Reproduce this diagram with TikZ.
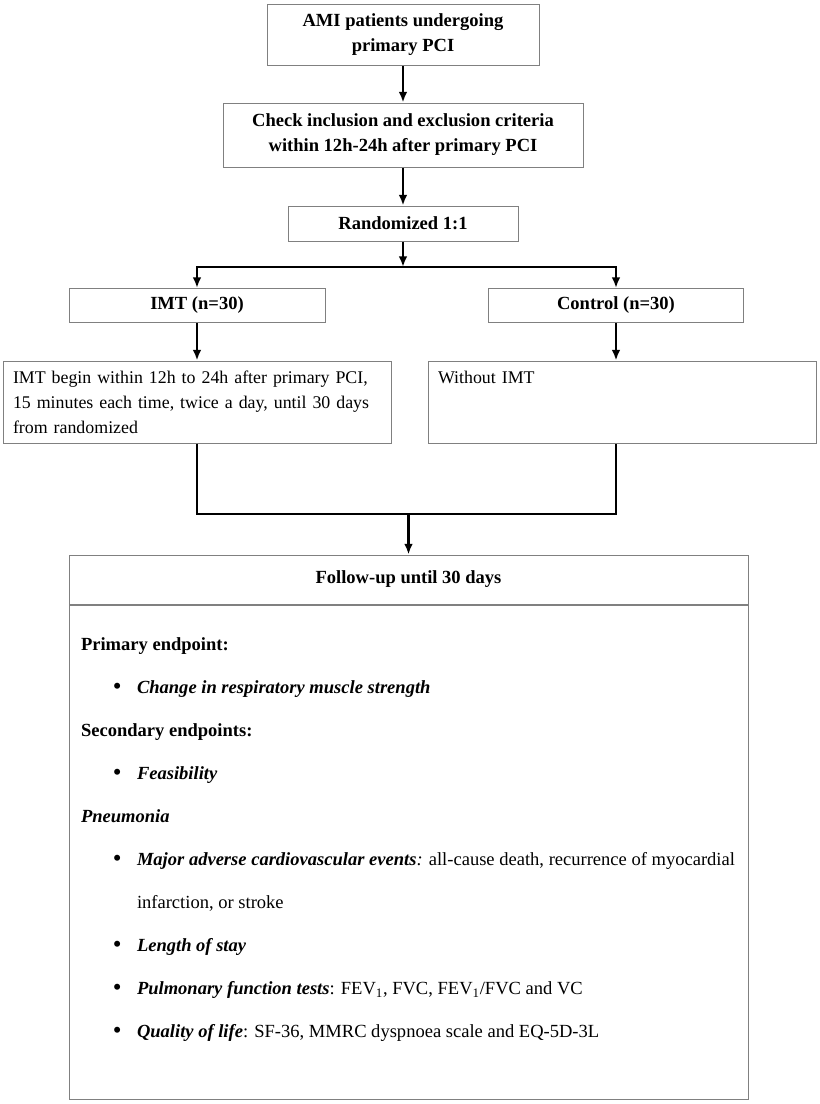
\documentclass[tikz,border=0pt]{standalone}
\usepackage{fontspec}
\setmainfont{Liberation Serif}
\usetikzlibrary{arrows.meta,positioning}
\definecolor{boxgray}{HTML}{808080}
\tikzset{
  flowbox/.style={draw=boxgray, line width=0.75pt, inner sep=0pt, align=center, font=\fontsize{13.9}{18.75}\selectfont\bfseries},
  textbox/.style={draw=boxgray, line width=0.75pt, inner xsep=7.5pt, inner ysep=0pt, text width=276pt, align=left, minimum height=61.5pt, font=\fontsize{13.4}{18.75}\selectfont},
  link/.style={line width=1.6pt},
  arr/.style={link, -{Latex[length=8pt,width=6.5pt]}}
}
\newcommand{\bul}{\hspace*{24pt}\makebox[18pt][l]{\raisebox{-0.08em}{\scalebox{1.35}{\textbullet}}}}
\newcommand{\bi}[1]{{\bfseries\itshape #1}}
\begin{document}
\begin{tikzpicture}[x=0.75pt,y=-0.75pt]
        \useasboundingbox (0,0) rectangle (820,1104);

        % Enrolment and randomization
        \node[flowbox, minimum width=204pt, minimum height=45.75pt] (ami) at (403,35) {AMI patients undergoing\\primary PCI};
        \node[flowbox, minimum width=270pt, minimum height=48pt] (check) at (403,135) {Check inclusion and exclusion criteria\\within 12h-24h after primary PCI};
        \node[flowbox, minimum width=172.5pt, minimum height=26.25pt] (rand) at (403,223.5) {Randomized 1:1};

        % The two arms
        \node[flowbox, minimum width=192pt, minimum height=25.5pt] (imt) at (197,305.5) {IMT (n=30)};
        \node[flowbox, minimum width=191.25pt, minimum height=25.5pt] (ctrl) at (616,305.5) {Control (n=30)};
        \node[textbox] (imtdet) at (197,402) {IMT begin within 12h to 24h after primary PCI,\\15 minutes each time, twice a day, until 30 days\\from randomized};
        \node[textbox] (noimt) at (622,402) {Without IMT\\\mbox{}\\\mbox{}};

        % Follow-up and endpoints
        \node[flowbox, minimum width=509.25pt, minimum height=36.75pt] (fuhead) at (408.5,579.5) {Follow-up until 30 days};
        \node[draw=boxgray, line width=0.75pt, inner xsep=9pt, inner ysep=0pt, anchor=north] (fubody) at (fuhead.south) {\parbox[t][370.5pt][t]{491.25pt}{\fontsize{13.9}{32.25}\selectfont\raggedright
            \rule{0pt}{34pt}\textbf{Primary endpoint:}\\
            \bul\bi{Change in respiratory muscle strength}\\
            \textbf{Secondary endpoints:}\\
            \bul\bi{Feasibility}\\
            \bi{Pneumonia}\\
            \bul\bi{Major adverse cardiovascular events}\textit{:} all-cause death, recurrence of myocardial\\
            \hspace*{42pt}infarction, or stroke\\
            \bul\bi{Length of stay}\\
            \bul\bi{Pulmonary function tests}: FEV\textsubscript{1}, FVC, FEV\textsubscript{1}/FVC and VC\\
            \bul\bi{Quality of life}: SF-36, MMRC dyspnoea scale and EQ-5D-3L}};

        % Connect nodes
        \coordinate (split) at (403,267);
        \coordinate (join) at (408.5,514);
        \draw[arr] (ami) -- (check);
        \draw[arr] (check) -- (rand);
        \draw[arr] (rand) -- (split);
        \draw[arr] (split) -| (imt);
        \draw[arr] (split) -| (ctrl);
        \draw[arr] (imt) -- (imtdet);
        \draw[arr] (ctrl.south) -- (ctrl.south |- noimt.north);
        \draw[link] (imtdet.south) |- (join) -| (ctrl.south |- noimt.south);
        \draw[arr] (join) -- (fuhead);
    \end{tikzpicture}
\end{document}
